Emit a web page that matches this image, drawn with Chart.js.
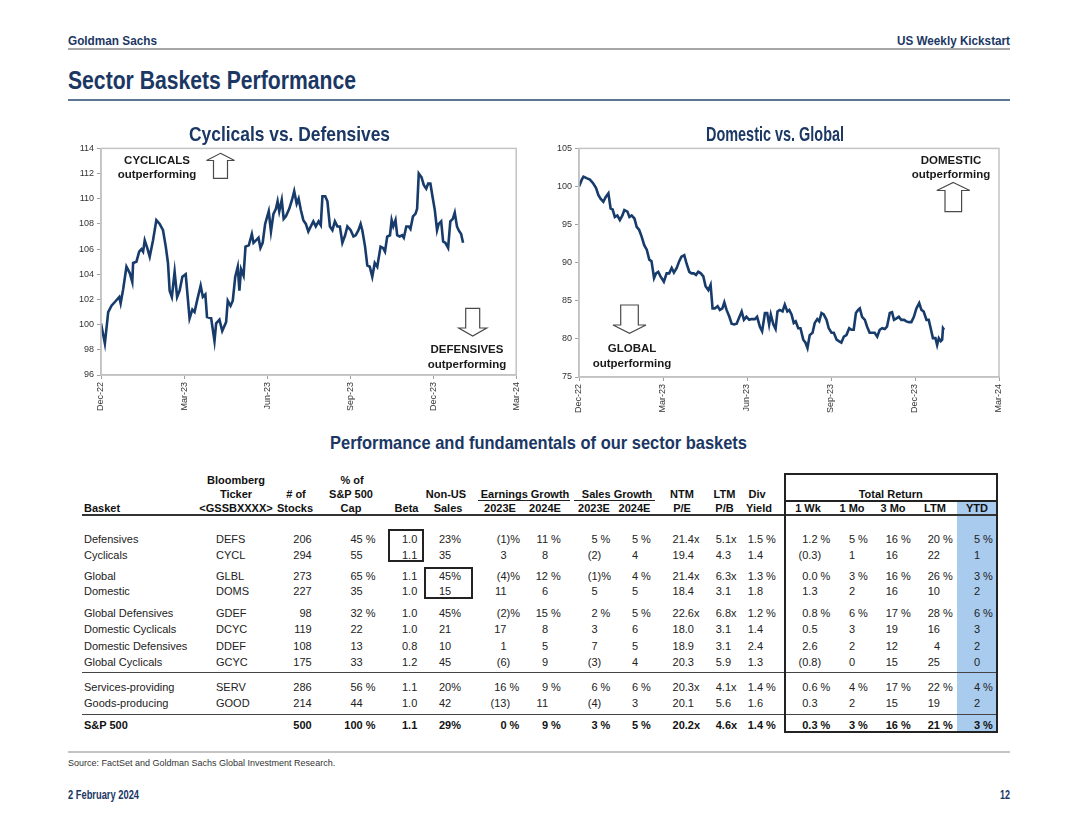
<!DOCTYPE html>
<html><head><meta charset="utf-8">
<script src="https://cdn.jsdelivr.net/npm/chart.js@4.4.1/dist/chart.umd.min.js"></script>
<style>
html,body{margin:0;padding:0;background:#fff;}
#page{position:relative;width:1080px;height:835px;overflow:hidden;font-family:"Liberation Sans",Arial,sans-serif;color:#222;}
.abs{position:absolute;white-space:pre;}
.navy{color:#1b3764;font-family:"Liberation Sans",Arial,sans-serif;font-weight:bold;}
.cell{position:absolute;font-size:11px;line-height:14px;height:14px;white-space:pre;}
.hdr{font-weight:bold;color:#111;}
.ann{position:absolute;font-weight:bold;font-size:11.5px;line-height:14px;text-align:center;color:#1a1a1a;width:120px;white-space:pre;}
canvas{position:absolute;}
</style></head><body><div id="page">
<canvas id="c1" width="470" height="290" style="left:60px;top:140px;width:470px;height:290px"></canvas>
<canvas id="c2" width="480" height="292" style="left:540px;top:140px;width:480px;height:292px"></canvas>
</div>
<script>
// ---------------- DATA ----------------
const xTickLabels = ["Dec-22","Mar-23","Jun-23","Sep-23","Dec-23","Mar-24"];
// x = months since Dec-22
const cycDefMonths = [0,0.14,0.26,0.38,0.50,0.66,0.71,0.80,0.92,1.04,
1.13,1.16,1.28,1.38,1.46,1.52,1.58,1.67,1.76,1.88,
2.00,2.12,2.24,2.34,2.42,2.48,2.56,2.66,2.75,2.84,
2.94,3.06,3.20,3.30,3.38,3.48,3.60,3.68,3.77,3.83,
3.98,4.10,4.16,4.28,4.38,4.52,4.58,4.68,4.76,4.85,
4.94,5.00,5.06,5.15,5.22,5.34,5.45,5.51,5.60,5.69,
5.76,5.84,5.93,6.06,6.14,6.23,6.32,6.38,6.44,6.53,
6.60,6.68,6.80,6.90,6.98,7.07,7.14,7.22,7.31,7.40,
7.49,7.58,7.67,7.76,7.86,7.94,8.00,8.10,8.18,8.27,
8.36,8.45,8.54,8.63,8.72,8.82,8.90,9.02,9.12,9.20,
9.30,9.38,9.44,9.54,9.62,9.71,9.80,9.89,9.98,10.10,
10.19,10.26,10.34,10.44,10.50,10.56,10.64,10.70,10.79,10.88,
10.94,11.03,11.12,11.18,11.27,11.36,11.42,11.48,11.58,11.66,
11.75,11.82,11.90,11.99,12.06,12.14,12.20,12.29,12.36,12.44,
12.54,12.62,12.71,12.78,12.86,12.92,13.01,13.08];
const cycDefValues = [100.1,98.5,101.0,101.5,101.8,102.2,101.7,102.8,104.6,104.1,
103.4,104.9,105.0,105.8,106.0,105.8,106.7,106.1,105.4,106.7,
108.3,108.0,107.5,106.2,104.9,102.7,102.2,104.2,102.2,102.7,
103.8,104.0,100.5,101.2,101.0,102.0,103.1,102.2,102.4,100.6,
100.5,98.7,100.1,100.4,99.5,100.2,101.9,101.5,101.9,103.8,
104.6,102.7,104.4,103.9,106.2,106.3,107.2,106.5,106.7,106.9,
106.1,106.5,108.0,109.0,107.4,108.8,109.2,109.8,109.0,109.9,
108.4,108.6,109.2,109.9,110.6,109.6,110.0,109.1,108.3,108.0,
107.4,107.8,108.2,107.8,108.2,107.9,110.2,110.2,109.8,107.8,
107.5,108.2,107.8,107.8,106.5,107.1,107.8,107.5,107.0,107.1,
107.5,108.0,107.5,106.2,104.7,104.6,103.8,104.9,104.6,106.2,
106.1,105.8,107.0,107.1,108.3,107.8,108.3,107.1,107.0,107.1,
106.9,107.8,107.8,107.6,108.6,108.8,109.2,112.0,111.7,111.1,
110.8,111.2,111.2,110.0,109.1,107.5,108.0,108.2,106.6,106.5,
106.1,108.2,108.4,108.9,107.8,107.5,107.2,106.5];
const domGlbMonths = [0.00,0.10,0.16,0.27,0.39,0.51,0.61,0.69,0.77,0.87,
0.95,1.05,1.13,1.20,1.28,1.37,1.46,1.55,1.62,1.73,
1.80,1.88,1.98,2.06,2.15,2.24,2.33,2.42,2.51,2.59,
2.68,2.75,2.83,2.91,3.03,3.13,3.22,3.31,3.39,3.49,
3.58,3.66,3.76,3.84,3.94,4.02,4.10,4.18,4.26,4.35,
4.44,4.52,4.62,4.70,4.77,4.85,4.95,5.03,5.12,5.19,
5.27,5.37,5.45,5.54,5.63,5.71,5.81,5.89,5.98,6.08,
6.16,6.28,6.36,6.46,6.54,6.64,6.72,6.79,6.85,6.94,
7.02,7.09,7.17,7.27,7.35,7.44,7.51,7.59,7.67,7.74,
7.83,7.91,8.01,8.09,8.16,8.24,8.34,8.42,8.51,8.58,
8.66,8.74,8.84,8.92,9.02,9.10,9.20,9.28,9.37,9.46,
9.55,9.65,9.73,9.81,9.89,9.97,10.03,10.11,10.21,10.29,
10.38,10.47,10.56,10.65,10.74,10.83,10.92,11.00,11.10,11.18,
11.25,11.34,11.42,11.51,11.61,11.69,11.78,11.87,11.96,12.05,
12.15,12.23,12.31,12.41,12.49,12.56,12.64,12.73,12.79,12.85,
12.92,12.97,13.00,13.04];
const domGlbValues = [100.0,100.9,101.3,101.1,100.9,100.4,99.8,98.9,98.4,98.0,
98.6,99.1,97.1,97.0,96.0,96.2,95.6,96.2,96.9,96.7,
96.0,96.2,95.8,94.7,94.3,93.4,92.3,91.7,90.4,90.2,
88.0,88.6,88.8,88.2,87.5,88.6,88.6,89.3,88.7,89.3,
90.2,90.8,91.0,89.9,88.8,88.6,88.6,88.4,88.8,88.6,
88.2,86.9,86.4,87.1,84.0,84.0,84.3,83.8,84.0,84.8,
83.8,82.9,82.0,81.9,82.0,82.7,83.6,82.5,82.9,82.5,
82.6,82.6,82.9,81.6,81.0,83.4,83.4,81.9,83.2,81.9,
81.3,83.6,83.8,83.6,84.5,83.6,83.8,83.2,82.1,82.3,
81.4,81.4,79.9,79.5,78.8,80.5,80.8,82.1,82.6,82.3,
83.4,83.2,82.5,81.4,80.8,80.8,79.9,79.7,79.5,80.3,
80.5,81.4,81.2,81.2,83.4,83.8,84.0,82.9,82.5,81.6,
80.8,80.8,80.8,80.3,81.2,81.4,81.3,81.6,83.4,83.5,
82.5,82.7,82.9,82.5,82.5,82.3,82.2,82.2,82.9,84.0,
84.7,83.8,83.6,82.5,82.5,81.4,80.1,80.1,79.2,80.1,
79.7,79.9,81.4,81.2];

const baskets = ["Defensives","Cyclicals","Global","Domestic","Global Defensives","Domestic Cyclicals","Domestic Defensives","Global Cyclicals","Services-providing","Goods-producing","S&P 500"];
const tickers = ["DEFS","CYCL","GLBL","DOMS","GDEF","DCYC","DDEF","GCYC","SERV","GOOD",""];
const numStocks = ["206","294","273","227","98","119","108","175","286","214","500"];
const capShare = ["45 %","55","65 %","35","32 %","22","13","33","56 %","44","100 %"];
const beta = ["1.0","1.1","1.1","1.0","1.0","1.0","0.8","1.2","1.1","1.0","1.1"];
const nonUSSales = ["23%","35","45%","15","45%","21","10","45","20%","42","29%"];
const epsGrowth2023 = ["(1)%","3","(4)%","11","(2)%","17","1","(6)","16 %","(13)","0 %"];
const epsGrowth2024 = ["11 %","8","12 %","6","15 %","8","5","9","9 %","11","9 %"];
const salesGrowth2023 = ["5 %","(2)","(1)%","5","2 %","3","7","(3)","6 %","(4)","3 %"];
const salesGrowth2024 = ["5 %","4","4 %","5","5 %","6","5","4","6 %","3","5 %"];
const ntmPE = ["21.4x","19.4","21.4x","18.4","22.6x","18.0","18.9","20.3","20.3x","20.1","20.2x"];
const ltmPB = ["5.1x","4.3","6.3x","3.1","6.8x","3.1","3.1","5.9","4.1x","5.6","4.6x"];
const divYield = ["1.5 %","1.4","1.3 %","1.8","1.2 %","1.4","2.4","1.3","1.4 %","1.6","1.4 %"];
const ret1Wk = ["1.2 %","(0.3)","0.0 %","1.3","0.8 %","0.5","2.6","(0.8)","0.6 %","0.3","0.3 %"];
const ret1Mo = ["5 %","1","3 %","2","6 %","3","2","0","4 %","2","3 %"];
const ret3Mo = ["16 %","16","16 %","16","17 %","19","12","15","17 %","15","16 %"];
const retLTM = ["20 %","22","26 %","10","28 %","16","4","25","22 %","19","21 %"];
const retYTD = ["5 %","1","3 %","2","6 %","3","2","0","4 %","2","3 %"];

// ---------------- LAYOUT HELPERS ----------------
const page = document.getElementById('page');
function add(cls, css, txt){
  const d=document.createElement('div'); d.className=cls; Object.assign(d.style,css);
  if(txt!==undefined) d.textContent=txt; page.appendChild(d); return d;
}
function navyText(txt,x0,x1,cy,fs){
  const d=add('abs navy',{fontSize:fs+'px',lineHeight:fs+'px',left:x0+'px',top:(cy-fs/2)+'px',transformOrigin:'0 50%'},txt);
  const w=d.getBoundingClientRect().width;
  d.style.transform='scaleX('+((x1-x0)/w)+')';
}
function rect(x,y,w,h,bg,z){ return add('abs',{left:x+'px',top:y+'px',width:w+'px',height:h+'px',background:bg,zIndex:z||0}); }
function boxOutline(x0,y0,x1,y1,bw,col){ return add('abs',{left:x0+'px',top:y0+'px',width:(x1-x0-2*bw)+'px',height:(y1-y0-2*bw)+'px',border:bw+'px solid '+col,zIndex:3}); }

// page header/footer
navyText("Goldman Sachs",68,157,40,13);
navyText("US Weekly Kickstart",897,1010,40,13);
rect(68,48,942,2,'#a6a6a6');
navyText("Sector Baskets Performance",68,356,80,25);
rect(68,99,942,2,'#5f7594');
navyText("Cyclicals vs. Defensives",189,390,133,21);
navyText("Domestic vs. Global",706,844,133,21);
navyText("Performance and fundamentals of our sector baskets",330,747,443,18.5);
navyText("2 February 2024",68,139,795,12);
navyText("12",1000,1010,795,12);
add('abs',{left:'68px',top:'757px',fontSize:'9px',lineHeight:'12px',color:'#333'},"Source: FactSet and Goldman Sachs Global Investment Research.");
rect(68,751,942,2,'#c4c4c4');

// ---------------- TABLE ----------------
rect(957,501,40,231,'#a9cbee');
function hdrC(txt,cx,y){ add('cell hdr',{left:(cx-70)+'px',width:'140px',textAlign:'center',top:(y-7)+'px',fontWeight:'bold'},txt); }
function hdrL(txt,x,y){ add('cell hdr',{left:x+'px',top:(y-7)+'px',fontWeight:'bold'},txt); }
hdrC("Bloomberg",236,480); hdrC("% of",352,480);
[["Ticker",236],["# of",296],["S&P 500",351],["Non-US",446],["Earnings Growth",525],["Sales Growth",617],["NTM",682],["LTM",724.5],["Div",757],["Total Return",890.7]].forEach(h=>hdrC(h[0],h[1],494));
hdrL("Basket",84,508);
[["<GSSBXXXX>",236],["Stocks",295],["Cap",351],["Beta",406.5],["Sales",448],["2023E",500],["2024E",545],["2023E",594],["2024E",634.5],["P/E",682],["P/B",724.5],["Yield",759],["1 Wk",808],["1 Mo",852],["3 Mo",893],["LTM",935],["YTD",977]].forEach(h=>hdrC(h[0],h[1],508));
rect(478,500,92,1,'#222'); rect(574,500,81,1,'#222');
rect(82,514,915,1.6,'#333');
rect(82,671.5,915,1.5,'#444');
rect(82,713.5,915,1.5,'#444');
rect(784,500,213,1.5,'#222');
boxOutline(783.5,473,997.5,732.5,2,'#222');
boxOutline(388,529,423.5,562,2,'#222');
boxOutline(423.5,566.5,473,598.5,2,'#222');

const rowY = [539,554.5,575.5,590.5,613,629,645.5,662,687,703,725];
const numCols = [[numStocks,311.7],[capShare,362.7],[beta,417.3],[epsGrowth2023,506.5],[epsGrowth2024,548],[salesGrowth2023,597.5],[salesGrowth2024,638],[ntmPE,694],[ltmPB,731],[divYield,763],[ret1Wk,817.5],[ret1Mo,855],[ret3Mo,898],[retLTM,940],[retYTD,980]];
function numCell(txt,anchor,y,bold){
  const m=txt.match(/^(.*?)(\)?\s?%|\)|x)?$/);
  const main=m[1], suf=m[2]||'';
  const css={top:(y-7)+'px',fontWeight:bold?'bold':'normal',color:bold?'#111':'#222',zIndex:2};
  add('cell',Object.assign({left:(anchor-100)+'px',width:'100px',textAlign:'right'},css),main);
  if(suf) add('cell',Object.assign({left:anchor+'px'},css),suf);
}
baskets.forEach((b,i)=>{
  const y=rowY[i], bold=(i===baskets.length-1);
  const css={top:(y-7)+'px',fontWeight:bold?'bold':'normal',color:bold?'#111':'#222'};
  add('cell',Object.assign({left:'84px'},css),b);
  add('cell',Object.assign({left:'216px'},css),tickers[i]);
  add('cell',Object.assign({left:'439px'},css),nonUSSales[i]);
  numCols.forEach(c=>numCell(c[0][i],c[1],y,bold));
});

// ---------------- ANNOTATIONS ----------------
function ann(l1,l2,cx,y1,y2){ add('ann',{left:(cx-60)+'px',top:(y1-7)+'px',zIndex:5},l1); add('ann',{left:(cx-60)+'px',top:(y2-7)+'px',zIndex:5},l2); }
ann("CYCLICALS","outperforming",157,160,174);
ann("DEFENSIVES","outperforming",467,349,364);
ann("DOMESTIC","outperforming",951,160,174);
ann("GLOBAL","outperforming",632,348,363);
function upArrow(cx,top,headY,hw,sw,bottom){
  return [[cx,top],[cx+hw,headY],[cx+sw,headY],[cx+sw,bottom],[cx-sw,bottom],[cx-sw,headY],[cx-hw,headY]].map(p=>p.join(',')).join(' ');
}
function downArrow(cx,top,headY,hw,sw,tip){
  return [[cx-sw,top],[cx+sw,top],[cx+sw,headY],[cx+hw,headY],[cx,tip],[cx-hw,headY],[cx-sw,headY]].map(p=>p.join(',')).join(' ');
}
const svgNS='http://www.w3.org/2000/svg';
const svg=document.createElementNS(svgNS,'svg');
svg.setAttribute('width','1080'); svg.setAttribute('height','835');
svg.style.cssText='position:absolute;left:0;top:0;z-index:6;pointer-events:none';
[upArrow(220.5,153.3,160.5,14,7,178.3), downArrow(472.7,308.3,328,14,7,336),
 upArrow(953.3,182.5,190.5,16.5,8.3,211.7), downArrow(629.5,305,325,16.5,8.8,333.3)].forEach(pts=>{
  const p=document.createElementNS(svgNS,'polygon'); p.setAttribute('points',pts);
  p.setAttribute('fill','#fff'); p.setAttribute('stroke','#4a4a4a'); p.setAttribute('stroke-width','1.2');
  svg.appendChild(p);
});
page.appendChild(svg);

// ---------------- CHARTS ----------------
const framePlugin={id:'frame',afterDraw(chart){const a=chart.chartArea,ctx=chart.ctx;ctx.save();ctx.strokeStyle='#c4c4c4';ctx.lineWidth=1.5;ctx.strokeRect(a.left,a.top,a.right-a.left,a.bottom-a.top);ctx.restore();}};
function makeChart(id,xs,ys,yMin,yMax,yStep,yAxisW,padRight){
  const pts=xs.map((x,i)=>({x:x,y:ys[i]}));
  return new Chart(document.getElementById(id),{
    type:'line',
    data:{datasets:[{data:pts,borderColor:'#173b6a',borderWidth:2.6,pointRadius:0,tension:0,fill:false}]},
    options:{
      responsive:false,animation:false,events:[],
      layout:{padding:{left:0,right:padRight,top:8,bottom:0}},
      plugins:{legend:{display:false},tooltip:{enabled:false}},
      scales:{
        x:{type:'linear',min:0,max:15,afterFit:s=>{s.height=55;},
          ticks:{stepSize:3,autoSkip:false,minRotation:90,maxRotation:90,color:'#333',font:{size:9,family:'Liberation Sans'},padding:3,callback:v=>xTickLabels[Math.round(v/3)]},
          grid:{drawOnChartArea:false,drawTicks:true,tickLength:4,color:'#a0a0a0'},border:{color:'#bcbcbc',width:1.5}},
        y:{min:yMin,max:yMax,afterFit:s=>{s.width=yAxisW;},
          ticks:{stepSize:yStep,color:'#333',font:{size:9,family:'Liberation Sans'},padding:3},
          grid:{drawOnChartArea:false,drawTicks:true,tickLength:4,color:'#a0a0a0'},border:{color:'#bcbcbc',width:1.5}}
      }
    },
    plugins:[framePlugin]
  });
}
makeChart('c1',cycDefMonths,cycDefValues,96,114,2,41,12);
makeChart('c2',domGlbMonths,domGlbValues,75,105,5,39,21);
</script></body></html>
